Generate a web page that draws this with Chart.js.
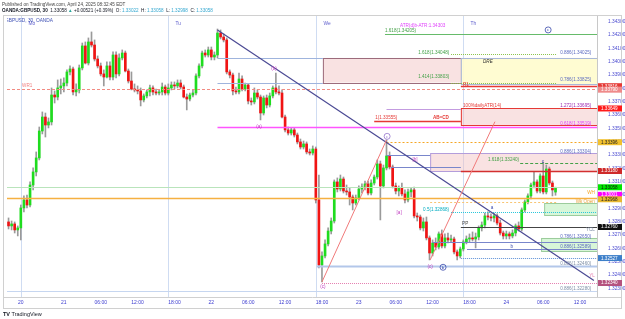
<!DOCTYPE html>
<html lang="en">
<head>
<meta charset="UTF-8">
<title>GBPUSD 30m</title>
<script src="https://cdn.jsdelivr.net/npm/chart.js"></script>
<style>
  html, body { margin: 0; padding: 0; background: #fff; }
  #wrap { width: 625px; height: 319px; }
</style>
</head>
<body>
<div id="wrap"><canvas id="myChart" width="625" height="319"></canvas></div>
<script>
// 30 minute bars, index 0 = Fri 18 Apr 15:00 EDT, index 178 = Thu 24 Apr 08:00
var tickIdx = [4, 18, 30, 42, 54, 66, 78, 90, 102, 114, 126, 138, 150, 162, 174, 186];
var tickText = ['20', '21', '06:00', '12:00', '18:00', '22', '06:00', '12:00', '18:00', '23', '06:00', '12:00', '18:00', '24', '06:00', '12:00'];
var priceTicks = [1.323, 1.324, 1.325, 1.326, 1.327, 1.328, 1.329, 1.330, 1.331, 1.332, 1.333,
                  1.334, 1.335, 1.336, 1.337, 1.338, 1.339, 1.340, 1.341, 1.342, 1.343];

var opens = [
  1.32798, 1.32768, 1.32783, 1.32738, 1.32753, 1.32903, 1.32963, 1.32925, 1.33075, 1.33173,
  1.33278, 1.33480, 1.33585, 1.33525, 1.33548, 1.33750, 1.33735, 1.33803, 1.33818, 1.33840,
  1.33923, 1.33945, 1.33773, 1.33788, 1.33953, 1.34118, 1.33990, 1.34148, 1.34125, 1.34020,
  1.33968, 1.33908, 1.33885, 1.33968, 1.33885, 1.34050, 1.33908, 1.34028, 1.34065, 1.33930,
  1.33855, 1.33795, 1.33788, 1.33780, 1.33713, 1.33743, 1.33773, 1.33803, 1.33773, 1.33765,
  1.33773, 1.33810, 1.33765, 1.33803, 1.33825, 1.33818, 1.33840, 1.33810, 1.33735, 1.33720,
  1.33750, 1.33765, 1.33893, 1.33968, 1.34065, 1.34050, 1.34088, 1.34035, 1.34050, 1.34215,
  1.34185, 1.34163, 1.33923, 1.33900, 1.33780, 1.33773, 1.33870, 1.33795, 1.33825, 1.33705,
  1.33698, 1.33765, 1.33735, 1.33615, 1.33728, 1.33675, 1.33743, 1.33803, 1.33773, 1.33765,
  1.33585, 1.33488, 1.33465, 1.33488, 1.33450, 1.33398, 1.33360, 1.33383, 1.33323, 1.33315,
  1.33345, 1.32963, 1.32475, 1.32543, 1.32633, 1.32730, 1.32805, 1.33098, 1.33045, 1.33120,
  1.33030, 1.33023, 1.32985, 1.32940, 1.32978, 1.33045, 1.33060, 1.33083, 1.33015, 1.33090,
  1.33135, 1.33233, 1.33068, 1.33203, 1.33293, 1.33210, 1.33068, 1.33030, 1.33053, 1.33008,
  1.32963, 1.33023, 1.33038, 1.32843, 1.32835, 1.32753, 1.32798, 1.32678, 1.32565, 1.32640,
  1.32610, 1.32708, 1.32618, 1.32678, 1.32663, 1.32670, 1.32573, 1.32543, 1.32595, 1.32648,
  1.32670, 1.32678, 1.32670, 1.32685, 1.32753, 1.32775, 1.32843, 1.32835, 1.32828, 1.32843,
  1.32790, 1.32715, 1.32693, 1.32708, 1.32693, 1.32715, 1.32768, 1.32745, 1.32888, 1.32948,
  1.32993, 1.33075, 1.33098, 1.33030, 1.33143, 1.33023, 1.33195, 1.33090, 1.33022
];
var highs = [
  1.32828, 1.32805, 1.32798, 1.32768, 1.32925, 1.32993, 1.33000, 1.33098, 1.33203, 1.33323,
  1.33510, 1.33623, 1.33615, 1.33578, 1.33803, 1.33780, 1.33863, 1.33870, 1.33878, 1.33938,
  1.33968, 1.33960, 1.33833, 1.33975, 1.34140, 1.34148, 1.34178, 1.34223, 1.34163, 1.34043,
  1.33990, 1.33938, 1.33998, 1.33998, 1.34073, 1.34073, 1.34058, 1.34088, 1.34080, 1.33945,
  1.33923, 1.33833, 1.33818, 1.33803, 1.33758, 1.33788, 1.33825, 1.33818, 1.33795, 1.33788,
  1.33840, 1.33825, 1.33833, 1.33848, 1.33848, 1.33863, 1.33863, 1.33825, 1.33758, 1.33765,
  1.33788, 1.33908, 1.33983, 1.34080, 1.34088, 1.34110, 1.34110, 1.34073, 1.34245, 1.34238,
  1.34208, 1.34178, 1.33938, 1.33915, 1.33810, 1.33915, 1.33893, 1.33840, 1.33833, 1.33728,
  1.33803, 1.33788, 1.33750, 1.33743, 1.33750, 1.33765, 1.33818, 1.33915, 1.33818, 1.33788,
  1.33600, 1.33510, 1.33503, 1.33503, 1.33465, 1.33420, 1.33405, 1.33398, 1.33345, 1.33368,
  1.33360, 1.33150, 1.32573, 1.32663, 1.32753, 1.32828, 1.33113, 1.33128, 1.33150, 1.33135,
  1.33075, 1.33053, 1.33000, 1.33000, 1.33068, 1.33083, 1.33105, 1.33105, 1.33113, 1.33150,
  1.33263, 1.33255, 1.33225, 1.33413, 1.33323, 1.33225, 1.33090, 1.33068, 1.33090, 1.33038,
  1.33045, 1.33053, 1.33060, 1.32865, 1.32850, 1.32828, 1.32835, 1.32693, 1.32663, 1.32678,
  1.32723, 1.32738, 1.32708, 1.32715, 1.32700, 1.32685, 1.32588, 1.32610, 1.32663, 1.32693,
  1.32708, 1.32723, 1.32715, 1.32768, 1.32798, 1.32865, 1.32873, 1.32858, 1.32865, 1.32858,
  1.32813, 1.32730, 1.32730, 1.32723, 1.32738, 1.32783, 1.32798, 1.32903, 1.32963, 1.33008,
  1.33090, 1.33173, 1.33113, 1.33158, 1.33248, 1.33225, 1.33210, 1.33105, 1.33058
];
var lows = [
  1.32745, 1.32738, 1.32715, 1.32693, 1.32663, 1.32873, 1.32903, 1.32910, 1.33038, 1.33143,
  1.33263, 1.33458, 1.33435, 1.33503, 1.33525, 1.33690, 1.33713, 1.33758, 1.33773, 1.33818,
  1.33900, 1.33750, 1.33743, 1.33765, 1.33938, 1.33983, 1.33975, 1.34110, 1.34005, 1.33953,
  1.33893, 1.33818, 1.33878, 1.33863, 1.33863, 1.33878, 1.33893, 1.34013, 1.33923, 1.33840,
  1.33788, 1.33773, 1.33758, 1.33668, 1.33698, 1.33728, 1.33743, 1.33750, 1.33750, 1.33750,
  1.33750, 1.33750, 1.33750, 1.33788, 1.33795, 1.33803, 1.33795, 1.33728, 1.33638, 1.33705,
  1.33735, 1.33750, 1.33878, 1.33953, 1.34035, 1.34035, 1.34013, 1.34013, 1.34028, 1.34170,
  1.34148, 1.33908, 1.33878, 1.33750, 1.33758, 1.33758, 1.33780, 1.33780, 1.33683, 1.33675,
  1.33683, 1.33720, 1.33563, 1.33600, 1.33653, 1.33660, 1.33728, 1.33758, 1.33750, 1.33578,
  1.33473, 1.33450, 1.33450, 1.33435, 1.33383, 1.33345, 1.33345, 1.33308, 1.33300, 1.33300,
  1.32940, 1.32453, 1.32348, 1.32528, 1.32618, 1.32708, 1.32790, 1.33023, 1.33030, 1.33015,
  1.33000, 1.32925, 1.32888, 1.32925, 1.32963, 1.33015, 1.33038, 1.33000, 1.33000, 1.33075,
  1.33120, 1.32813, 1.33053, 1.33188, 1.33195, 1.33053, 1.33008, 1.32993, 1.32993, 1.32940,
  1.32948, 1.32985, 1.32828, 1.32805, 1.32738, 1.32730, 1.32663, 1.32513, 1.32543, 1.32588,
  1.32595, 1.32603, 1.32603, 1.32640, 1.32648, 1.32558, 1.32513, 1.32528, 1.32580, 1.32633,
  1.32648, 1.32655, 1.32603, 1.32663, 1.32730, 1.32753, 1.32813, 1.32805, 1.32798, 1.32775,
  1.32700, 1.32670, 1.32670, 1.32670, 1.32678, 1.32693, 1.32730, 1.32730, 1.32873, 1.32933,
  1.32970, 1.33053, 1.33015, 1.33015, 1.33008, 1.33008, 1.33075, 1.32993, 1.32998
];
var closes = [
  1.32768, 1.32783, 1.32738, 1.32753, 1.32903, 1.32963, 1.32925, 1.33075, 1.33173, 1.33278,
  1.33480, 1.33585, 1.33525, 1.33548, 1.33750, 1.33735, 1.33803, 1.33818, 1.33840, 1.33923,
  1.33945, 1.33773, 1.33788, 1.33953, 1.34118, 1.33990, 1.34148, 1.34125, 1.34020, 1.33968,
  1.33908, 1.33885, 1.33968, 1.33885, 1.34050, 1.33908, 1.34028, 1.34065, 1.33930, 1.33855,
  1.33795, 1.33788, 1.33780, 1.33713, 1.33743, 1.33773, 1.33803, 1.33773, 1.33765, 1.33773,
  1.33810, 1.33765, 1.33803, 1.33825, 1.33818, 1.33840, 1.33810, 1.33735, 1.33720, 1.33750,
  1.33765, 1.33893, 1.33968, 1.34065, 1.34050, 1.34088, 1.34035, 1.34050, 1.34215, 1.34185,
  1.34163, 1.33923, 1.33900, 1.33780, 1.33773, 1.33870, 1.33795, 1.33825, 1.33705, 1.33698,
  1.33765, 1.33735, 1.33615, 1.33728, 1.33675, 1.33743, 1.33803, 1.33773, 1.33765, 1.33585,
  1.33488, 1.33465, 1.33488, 1.33450, 1.33398, 1.33360, 1.33383, 1.33323, 1.33315, 1.33345,
  1.32963, 1.32475, 1.32543, 1.32633, 1.32730, 1.32805, 1.33098, 1.33045, 1.33120, 1.33030,
  1.33023, 1.32985, 1.32940, 1.32978, 1.33045, 1.33060, 1.33083, 1.33015, 1.33090, 1.33135,
  1.33233, 1.33068, 1.33203, 1.33293, 1.33210, 1.33068, 1.33030, 1.33053, 1.33008, 1.32963,
  1.33023, 1.33038, 1.32843, 1.32835, 1.32753, 1.32798, 1.32678, 1.32565, 1.32640, 1.32610,
  1.32708, 1.32618, 1.32678, 1.32663, 1.32670, 1.32573, 1.32543, 1.32595, 1.32648, 1.32670,
  1.32678, 1.32670, 1.32685, 1.32753, 1.32775, 1.32843, 1.32835, 1.32828, 1.32843, 1.32790,
  1.32715, 1.32693, 1.32708, 1.32693, 1.32715, 1.32768, 1.32745, 1.32888, 1.32948, 1.32993,
  1.33075, 1.33098, 1.33030, 1.33143, 1.33023, 1.33195, 1.33090, 1.33038, 1.33058
];

// price tags on the right axis
var tagPrices = [1.33816, 1.33790, 1.33649, 1.33396, 1.33180, 1.33058, 1.33001, 1.32968, 1.32760, 1.32527, 1.32340];
var tagFill = ['#e53935', '#ef8a8a', '#ff1a1a', '#f2c12e', '#cf2a2a', '#00e600', '#ff00ff', '#e8b830', '#111111', '#3d7fc9', '#b5527f'];
var tagInk = ['#fff', '#fff', '#fff', '#222', '#fff', '#111', '#fff', '#222', '#fff', '#fff', '#fff'];

// drawings (bar index / price)
var END = 191.5, START = -0.5;
var sessionIdx = [4, 52, 100, 148];
var sessionText = ['Mo', 'Tu', 'We', 'Th'];

var zones = [
  {a: 102.3, b: 147.2, top: 1.34028, bot: 1.33843, fill: 'rgba(242,190,190,0.45)', edge: '#9c6b7b'},
  {a: 147.2, b: END, top: 1.34028, bot: 1.33830, fill: 'rgba(255,252,205,0.9)', edge: '#a9b8d8'},
  {a: 147.2, b: END, top: 1.33649, bot: 1.33525, fill: 'rgba(242,190,190,0.45)', edge: '#e53935'},
  {a: 137.2, b: END, top: 1.33313, bot: 1.33180, fill: 'rgba(242,190,190,0.45)', edge: '#b39ddb'},
  {a: 174.3, b: END, top: 1.32940, bot: 1.32850, fill: 'rgba(190,240,190,0.6)', edge: '#9ccc9c'},
  {a: 173.3, b: END, top: 1.32678, bot: 1.32580, fill: 'rgba(190,240,190,0.6)', edge: '#9ccc9c'}
];

var levels = [
  {p: 1.33795, a: START, b: END, c: '#f28b82', w: 1, d: [3, 2]},
  {p: 1.34028, a: 68, b: 102.3, c: '#9fb4dd', w: 1},
  {p: 1.33843, a: 68, b: 102.3, c: '#9fb4dd', w: 1},
  {p: 1.34205, a: 122.5, b: END, c: '#66bb6a', w: 1},
  {p: 1.34055, a: 144, b: 178.5, c: '#8bc34a', w: 1, d: [1, 1]},
  {p: 1.33843, a: 144, b: 178.5, c: '#8bc34a', w: 1, d: [1, 1]},
  {p: 1.33816, a: 147.2, b: END, c: '#e53935', w: 1.5},
  {p: 1.33645, a: 123, b: 147.2, c: '#c39be0', w: 1},
  {p: 1.33555, a: 119, b: 147.2, c: '#e53935', w: 1.5},
  {p: 1.33510, a: 68, b: END, c: '#ff55ff', w: 1.5},
  {p: 1.33396, a: 123, b: END, c: '#f5a623', w: 1, d: [2, 2]},
  {p: 1.33300, a: 123, b: 137.2, c: '#7986cb', w: 1},
  {p: 1.33210, a: 124.5, b: 147.2, c: '#7986cb', w: 1},
  {p: 1.33242, a: 166.5, b: END, c: '#43a047', w: 1, d: [3, 2]},
  {p: 1.33180, a: 147.2, b: END, c: '#d32f2f', w: 1.5},
  {p: 1.33058, a: START, b: END, c: '#b9e4bb', w: 1},
  {p: 1.32980, a: START, b: END, c: '#f5b041', w: 1.5},
  {p: 1.32948, a: 137.2, b: 178.5, c: '#f8c471', w: 1, d: [2, 2]},
  {p: 1.32870, a: 144, b: END, c: '#26c6da', w: 1, d: [1, 1]},
  {p: 1.32760, a: 147.2, b: END, c: '#444444', w: 1},
  {p: 1.32650, a: 138, b: END, c: '#7986cb', w: 1},
  {p: 1.32595, a: 149.2, b: END, c: '#7986cb', w: 1},
  {p: 1.32527, a: 147.2, b: END, c: '#5c8fd6', w: 1, d: [1, 1]},
  {p: 1.32468, a: 100.3, b: END, c: '#b3c7ea', w: 2},
  {p: 1.32340, a: 102, b: END, c: '#e57fb0', w: 1, d: [1, 1]},
  {p: 1.32280, a: START, b: END, c: '#c6d6f0', w: 1}
];

var segments = [
  {a: 68, pa: 1.34238, b: 190.5, pb: 1.32358, c: '#4b4a94', w: 1.2},
  {a: 102, pa: 1.32348, b: 123, pb: 1.33413, c: '#f07a7a', w: 1},
  {a: 137.2, pa: 1.32513, b: 158.3, pb: 1.33550, c: '#f07a7a', w: 1}
];

var notes = [
  {t: 'WR1', i: 4.4, p: 1.33818, c: '#f08080'},
  {t: '1.618(1.34205)', i: 122.5, p: 1.34232, c: '#43a047'},
  {t: 'ATR(d)b-ATR:1.34303', i: 127.4, p: 1.34267, c: '#e040fb'},
  {t: '1.618(1.34048)', i: 133.3, p: 1.34067, c: '#43a047'},
  {t: '0.886(1.34025)', i: 179.5, p: 1.34068, c: '#5c6bc0'},
  {t: 'DRE', i: 154.4, p: 1.33998, c: '#333333', f: 'italic'},
  {t: '1.414(1.33803)', i: 133.3, p: 1.33885, c: '#43a047'},
  {t: '0.786(1.33825)', i: 179.5, p: 1.33866, c: '#5c6bc0'},
  {t: 'R1', i: 147.9, p: 1.33830, c: '#e53935'},
  {t: '100%dailyATR(14)', i: 147.9, p: 1.33672, c: '#e53935'},
  {t: '1.272(1.33695)', i: 179.5, p: 1.33668, c: '#9c27b0'},
  {t: '1(1.33555)', i: 119.3, p: 1.33577, c: '#e53935'},
  {t: 'AB=CD', i: 138.1, p: 1.33577, c: '#e53935', f: 'bold'},
  {t: '0.618(1.33519)', i: 179.5, p: 1.33532, c: '#e040fb'},
  {t: '(b)', i: 86.4, p: 1.33945, c: '#c040c0', al: 'center'},
  {t: '(a)', i: 81.5, p: 1.33510, c: '#c040c0', al: 'center'},
  {t: '[b]', i: 132.3, p: 1.33263, c: '#c040c0', al: 'center'},
  {t: '1.618(1.33240)', i: 156, p: 1.33263, c: '#43a047'},
  {t: '0.886(1.33304)', i: 179.5, p: 1.33325, c: '#5c6bc0'},
  {t: 'c', i: 173.9, p: 1.33252, c: '#3949ab', al: 'center'},
  {t: 'WH', i: 190.8, p: 1.33015, c: '#f5a623', al: 'right'},
  {t: 'Wk Open', i: 190.8, p: 1.32952, c: '#e8a33d', al: 'right'},
  {t: '0.5(1.32868)', i: 134.9, p: 1.32888, c: '#00acc1'},
  {t: '[a]', i: 127.1, p: 1.32867, c: '#c040c0', al: 'center'},
  {t: 'a', i: 157.3, p: 1.32905, c: '#3949ab', al: 'center'},
  {t: 'PP', i: 147.6, p: 1.32783, c: '#444444'},
  {t: 'YCL', i: 190.8, p: 1.32738, c: '#7f8fa6', al: 'right'},
  {t: '0.786(1.32650)', i: 179.5, p: 1.32685, c: '#5c6bc0'},
  {t: '0.886(1.32589)', i: 179.5, p: 1.32612, c: '#5c6bc0'},
  {t: 'b', i: 163.8, p: 1.32612, c: '#3949ab', al: 'center'},
  {t: '0.886(1.32460)', i: 179.5, p: 1.32484, c: '#7f8fa6'},
  {t: '(c)', i: 137.2, p: 1.32462, c: '#c040c0', al: 'center'},
  {t: 'YL', i: 190.8, p: 1.32393, c: '#e57fb0', al: 'right'},
  {t: '(c)', i: 102.3, p: 1.32310, c: '#c040c0', al: 'center'},
  {t: '0.886(1.32280)', i: 179.5, p: 1.32297, c: '#7f8fa6'}
];
var circled = [
  {t: 'c', i: 175.6, p: 1.34238, c: '#3949ab'},
  {t: 'c', i: 123.2, p: 1.33440, c: '#9575cd'},
  {t: 'b', i: 141.4, p: 1.32458, c: '#3949ab'}
];

var FONT = '"Liberation Sans", Arial, sans-serif';

function say(ctx, s, x, y, color, size, align, style) {
  ctx.font = (style || '') + ' ' + size + 'px ' + FONT;
  ctx.fillStyle = color;
  ctx.textAlign = align || 'left';
  ctx.textBaseline = 'middle';
  ctx.fillText(s, x, y);
}

var drawings = {
  id: 'drawings',
  beforeDatasetsDraw: function (chart) {
    var ctx = chart.ctx, xs = chart.scales.x, ys = chart.scales.y, a = chart.chartArea;
    ctx.save();
    ctx.beginPath();
    ctx.rect(a.left, a.top, a.right - a.left, a.bottom - a.top);
    ctx.clip();
    // session breaks
    ctx.strokeStyle = '#cfdcf2';
    ctx.lineWidth = 1;
    sessionIdx.forEach(function (i, k) {
      var x = Math.round(xs.getPixelForValue(i)) + 0.5;
      ctx.beginPath(); ctx.moveTo(x, a.top); ctx.lineTo(x, a.bottom); ctx.stroke();
      say(ctx, sessionText[k], x + 7, a.top + 8, '#5c5ccc', 4.8);
    });
    zones.forEach(function (z) {
      var x0 = xs.getPixelForValue(z.a), x1 = xs.getPixelForValue(z.b);
      var y0 = ys.getPixelForValue(z.top), y1 = ys.getPixelForValue(z.bot);
      ctx.fillStyle = z.fill;
      ctx.fillRect(x0, y0, x1 - x0, y1 - y0);
      ctx.strokeStyle = z.edge;
      ctx.lineWidth = 1;
      ctx.strokeRect(x0 + 0.5, Math.round(y0) + 0.5, x1 - x0, Math.round(y1 - y0));
    });
    ctx.restore();
  },
  afterDatasetsDraw: function (chart) {
    var ctx = chart.ctx, xs = chart.scales.x, ys = chart.scales.y, a = chart.chartArea;
    ctx.save();
    ctx.beginPath();
    ctx.rect(a.left, a.top, a.right - a.left, a.bottom - a.top);
    ctx.clip();
    levels.forEach(function (l) {
      var y = Math.round(ys.getPixelForValue(l.p)) + 0.5;
      ctx.strokeStyle = l.c;
      ctx.lineWidth = l.w;
      ctx.setLineDash(l.d || []);
      ctx.beginPath();
      ctx.moveTo(xs.getPixelForValue(l.a), y);
      ctx.lineTo(xs.getPixelForValue(l.b), y);
      ctx.stroke();
    });
    ctx.setLineDash([]);
    segments.forEach(function (s) {
      ctx.strokeStyle = s.c;
      ctx.lineWidth = s.w;
      ctx.beginPath();
      ctx.moveTo(xs.getPixelForValue(s.a), ys.getPixelForValue(s.pa));
      ctx.lineTo(xs.getPixelForValue(s.b), ys.getPixelForValue(s.pb));
      ctx.stroke();
    });
    notes.forEach(function (n) {
      say(ctx, n.t, xs.getPixelForValue(n.i), ys.getPixelForValue(n.p), n.c, 4.6, n.al, n.f);
    });
    circled.forEach(function (n) {
      var x = xs.getPixelForValue(n.i), y = ys.getPixelForValue(n.p);
      ctx.strokeStyle = n.c;
      ctx.lineWidth = 0.8;
      ctx.beginPath(); ctx.arc(x, y, 3, 0, Math.PI * 2); ctx.stroke();
      say(ctx, n.t, x, y + 0.3, n.c, 4.4, 'center');
    });
    say(ctx, 'GBPUSD, 30, OANDA', 5, 21, '#3f51b5', 4.8);
    ctx.restore();
  },
  afterDraw: function (chart) {
    var ctx = chart.ctx, ys = chart.scales.y, a = chart.chartArea;
    ctx.save();
    // header
    say(ctx, 'Published on TradingView.com, April 24, 2025 08:32:45 EDT', 2, 4.5, '#444444', 4.6);
    var parts = [
      ['OANDA:GBPUSD, 30  ', '#131722', 'bold'], ['1.33058 ', '#131722'], ['\u25B2 ', '#26a69a'],
      ['+0.00521 (+0.39%)  ', '#131722'], ['O: ', '#131722'], ['1.33022  ', '#35a8d0'],
      ['H: ', '#131722'], ['1.33058  ', '#35a8d0'], ['L: ', '#131722'], ['1.32998  ', '#35a8d0'],
      ['C: ', '#131722'], ['1.33058', '#35a8d0']
    ];
    var x = 2;
    parts.forEach(function (p) {
      say(ctx, p[0], x, 11, p[1], 4.6, 'left', p[2]);
      x += ctx.measureText(p[0]).width;
    });
    // frame
    ctx.strokeStyle = '#d0d0d0';
    ctx.lineWidth = 1;
    ctx.strokeRect(3.5, 15.5, 618, 293);
    ctx.beginPath(); ctx.moveTo(3.5, a.bottom + 0.5); ctx.lineTo(621.5, a.bottom + 0.5); ctx.stroke();
    // price tags
    tagPrices.forEach(function (p, k) {
      var y = ys.getPixelForValue(p);
      ctx.fillStyle = tagFill[k];
      ctx.fillRect(a.right + 1, y - 3, 24, 6);
      say(ctx, p.toFixed(5), a.right + 4, y + 0.2, tagInk[k], 4.6);
    });
    // logo
    say(ctx, 'TV', 3, 314, '#131722', 5.5, 'left', 'bold');
    say(ctx, 'TradingView', 11.5, 314, '#131722', 5.5);
    ctx.restore();
  }
};

var wickData = opens.map(function (o, i) { return {x: i, y: [lows[i], highs[i]]}; });
var bodyData = opens.map(function (o, i) { return {x: i, y: [o, closes[i]]}; });
var bodyColor = opens.map(function (o, i) { return closes[i] >= o ? '#1fdc1f' : '#f01414'; });

var ctx = document.getElementById('myChart').getContext('2d');
var myChart = new Chart(ctx, {
  type: 'bar',
  data: {
    datasets: [
      {data: bodyData, backgroundColor: bodyColor, barThickness: 2, minBarLength: 1, grouped: false, order: 0},
      {data: wickData, backgroundColor: '#9a9a9a', barThickness: 1, grouped: false, order: 1}
    ]
  },
  options: {
    responsive: false,
    animation: false,
    devicePixelRatio: 1,
    layout: {padding: {top: 16, left: 7, right: 0, bottom: 10}},
    plugins: {legend: {display: false}, tooltip: {enabled: false}},
    scales: {
      x: {
        type: 'linear', min: START, max: END, offset: false,
        grid: {display: false, drawTicks: false}, border: {display: false},
        afterBuildTicks: function (scale) { scale.ticks = tickIdx.map(function (v) { return {value: v}; }); },
        afterFit: function (scale) { scale.height = 12; },
        ticks: {
          autoSkip: false, maxRotation: 0, padding: 3, color: '#3c3cd0',
          font: {size: 5, family: FONT},
          callback: function (v) { var k = tickIdx.indexOf(v); return k < 0 ? '' : tickText[k]; }
        }
      },
      y: {
        type: 'linear', position: 'right', min: 1.32235, max: 1.343425,
        grid: {display: false}, border: {display: true, color: '#c8c8c8'},
        afterBuildTicks: function (scale) { scale.ticks = priceTicks.map(function (v) { return {value: v}; }); },
        afterFit: function (scale) { scale.width = 28; },
        ticks: {
          padding: 3, color: '#4a4ad0', font: {size: 4.8, family: FONT},
          callback: function (v) { return v.toFixed(5); }
        }
      }
    }
  },
  plugins: [drawings]
});
</script>
</body>
</html>
